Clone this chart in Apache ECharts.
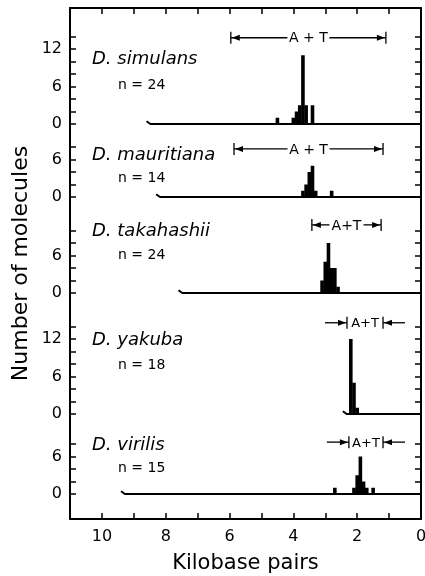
<!DOCTYPE html>
<html><head><meta charset="utf-8">
<script src="https://cdn.jsdelivr.net/npm/echarts@6/dist/echarts.min.js"></script>
<style>html,body{margin:0;padding:0;background:#fff}#c{width:425px;height:576px}</style>
</head><body><div id="c"></div>
<script>
// ---- data (kilobase pairs, number of molecules) ----
const species = ['D. simulans', 'D. mauritiana', 'D. takahashii', 'D. yakuba', 'D. virilis'];
const nValues = [24, 14, 24, 18, 15];
const simulansKb = [4.5, 4.0, 3.9, 3.8, 3.7, 3.6, 3.4];
const simulansN  = [1, 1, 2, 3, 11, 3, 3];
const mauritianaKb = [3.7, 3.6, 3.5, 3.4, 3.3, 2.8];
const mauritianaN  = [1, 2, 4, 5, 1, 1];
const takahashiiKb = [3.1, 3.0, 2.9, 2.8, 2.7, 2.6];
const takahashiiN  = [2, 5, 8, 4, 4, 1];
const yakubaKb = [2.2, 2.1, 2.0];
const yakubaN  = [12, 5, 1];
const virilisKb = [2.7, 2.1, 2.0, 1.9, 1.8, 1.7, 1.5];
const virilisN  = [1, 1, 3, 6, 2, 1, 1];
// start of the baseline (kb) of each panel
const baselineStart = [8.6, 8.3, 7.6, 2.45, 9.4];
// A+T region: [left kb, right kb, height in molecules]
const atRegion = [[5.96, 1.10, 13.8], [5.86, 1.19, 7.7], [3.42, 1.25, 10.9], [2.32, 1.19, 14.6], [2.26, 1.19, 8.3]];
const atText = ['A + T', 'A + T', 'A+T', 'A+T', 'A+T'];
const xTicks = [10, 8, 6, 4, 2, 0];
const yTickLabels = [0, 6, 12];

// ---- layout ----
const kbs = [simulansKb, mauritianaKb, takahashiiKb, yakubaKb, virilisKb];
const ns = [simulansN, mauritianaN, takahashiiN, yakubaN, virilisN];
const baselinesPx = [124, 197, 293, 414, 494];
const yMax = [14, 8, 10, 14, 8];
const pxPerUnit = 6.25;
const atMode = [0, 0, 0, 1, 1];     // 0: |<-- A+T -->|, 1: ->|A+T|<-
const atGap = [21, 21, 17, 0, 0];
const atFont = [14, 14, 14, 13, 13];
const labelY = [[59, 85], [155, 178], [231, 255], [340, 365], [445, 468]];
const FONT = 'DejaVu Sans';
const L = 70, R = 4;

const grid = [{left: L, right: R, top: 8, bottom: 57, outerBoundsMode: 'none', containLabel: false}];
const xAxis = [
  {gridIndex: 0, type: 'value', min: 0, max: 11, interval: 1, inverse: true, position: 'bottom',
   axisLine: {show: true, onZero: false, lineStyle: {color: '#000', width: 2}},
   axisTick: {show: true, inside: true, length: 6, lineStyle: {color: '#000', width: 1.5}},
   axisLabel: {show: true, margin: 10, color: '#000', fontFamily: FONT, fontSize: 16,
     hideOverlap: false, formatter: v => xTicks.includes(v) ? String(v) : ''},
   splitLine: {show: false},
   name: 'Kilobase pairs', nameLocation: 'middle', nameGap: 34,
   nameTextStyle: {color: '#000', fontFamily: FONT, fontSize: 21}},
  {gridIndex: 0, type: 'value', min: 0, max: 11, interval: 1, inverse: true, position: 'top',
   axisLine: {show: true, onZero: false, lineStyle: {color: '#000', width: 2}},
   axisTick: {show: true, inside: true, length: 6, lineStyle: {color: '#000', width: 1.5}},
   axisLabel: {show: false}, splitLine: {show: false}}
];
const yAxis = [
  {gridIndex: 0, type: 'value', min: 0, max: 1, position: 'left',
   axisLine: {show: true, onZero: false, lineStyle: {color: '#000', width: 2}},
   axisTick: {show: false}, axisLabel: {show: false}, splitLine: {show: false},
   name: 'Number of molecules', nameLocation: 'middle', nameGap: 38, nameRotate: 90,
   nameTextStyle: {color: '#000', fontFamily: FONT, fontSize: 22}},
  {gridIndex: 0, type: 'value', min: 0, max: 1, position: 'right',
   axisLine: {show: true, onZero: false, lineStyle: {color: '#000', width: 2}},
   axisTick: {show: false}, axisLabel: {show: false}, splitLine: {show: false}}
];
const series = [];
const graphic = [];

function makeRenderAT(txt) {
  return function (params, api) {
    const a = api.coord([api.value(0), api.value(2)]);
    const b = api.coord([api.value(1), api.value(2)]);
    const mode = api.value(3), gap = api.value(4), fs = api.value(5);
    const y = a[1], ls = {stroke: '#000', lineWidth: 1.3};
    const cx = (a[0] + b[0]) / 2;
    const ch = [];
    ch.push({type: 'line', shape: {x1: a[0], y1: y - 6, x2: a[0], y2: y + 6}, style: ls});
    ch.push({type: 'line', shape: {x1: b[0], y1: y - 6, x2: b[0], y2: y + 6}, style: ls});
    ch.push({type: 'text', style: {x: cx, y: y + 1, text: txt, align: 'center',
      verticalAlign: 'middle', font: fs + 'px "' + FONT + '"', fill: '#000'}});
    if (mode === 0) {
      ch.push({type: 'line', shape: {x1: a[0], y1: y, x2: cx - gap, y2: y}, style: ls});
      ch.push({type: 'line', shape: {x1: cx + gap, y1: y, x2: b[0], y2: y}, style: ls});
      ch.push({type: 'polygon', shape: {points: [[a[0] + 1, y], [a[0] + 9, y - 3], [a[0] + 9, y + 3]]}, style: {fill: '#000'}});
      ch.push({type: 'polygon', shape: {points: [[b[0] - 1, y], [b[0] - 9, y - 3], [b[0] - 9, y + 3]]}, style: {fill: '#000'}});
    } else {
      ch.push({type: 'line', shape: {x1: a[0] - 22, y1: y, x2: a[0], y2: y}, style: ls});
      ch.push({type: 'line', shape: {x1: b[0], y1: y, x2: b[0] + 22, y2: y}, style: ls});
      ch.push({type: 'polygon', shape: {points: [[a[0] - 1, y], [a[0] - 9, y - 3], [a[0] - 9, y + 3]]}, style: {fill: '#000'}});
      ch.push({type: 'polygon', shape: {points: [[b[0] + 1, y], [b[0] + 9, y - 3], [b[0] + 9, y + 3]]}, style: {fill: '#000'}});
    }
    return {type: 'group', children: ch};
  };
}

for (let i = 0; i < 5; i++) {
  const g = i + 1;
  const h = yMax[i] * pxPerUnit;
  grid.push({left: L, right: R, top: baselinesPx[i] - h, height: h, outerBoundsMode: 'none', containLabel: false});
  xAxis.push({gridIndex: g, type: 'value', min: 0, max: 11, inverse: true, show: false});
  const yi = yAxis.length;
  yAxis.push({gridIndex: g, type: 'value', min: 0, max: yMax[i], interval: 2, position: 'left',
    axisLine: {show: false, onZero: false},
    axisTick: {show: true, inside: true, length: 6, lineStyle: {color: '#000', width: 1.5}},
    axisLabel: {show: true, margin: 8, color: '#000', fontFamily: FONT, fontSize: 16,
      formatter: v => yTickLabels.includes(v) ? String(v) : ''},
    splitLine: {show: false}});
  yAxis.push({gridIndex: g, type: 'value', min: 0, max: yMax[i], interval: 2, position: 'right',
    axisLine: {show: false, onZero: false},
    axisTick: {show: true, inside: true, length: 6, lineStyle: {color: '#000', width: 1.5}},
    axisLabel: {show: false}, splitLine: {show: false}});
  const s0 = baselineStart[i];
  series.push({type: 'line', xAxisIndex: g + 1, yAxisIndex: yi, silent: true, symbol: 'none',
    data: [[s0, 0.45], [s0 - 0.12, 0], [0, 0]], lineStyle: {color: '#000', width: 2}, z: 2});
  series.push({type: 'bar', xAxisIndex: g + 1, yAxisIndex: yi, barWidth: 3.6, silent: true,
    data: kbs[i].map((k, j) => [k, ns[i][j]]), itemStyle: {color: '#000'}, z: 3});
  const r = atRegion[i];
  series.push({type: 'custom', xAxisIndex: g + 1, yAxisIndex: yi, silent: true, clip: false,
    data: [[r[0], r[1], r[2], atMode[i], atGap[i], atFont[i]]], renderItem: makeRenderAT(atText[i]), z: 4});
  graphic.push({type: 'text', x: 92, y: labelY[i][0], style: {text: species[i],
    font: 'italic 18px "' + FONT + '"', fill: '#000', verticalAlign: 'middle'}});
  graphic.push({type: 'text', x: 118, y: labelY[i][1], style: {text: 'n = ' + nValues[i],
    font: '14px "' + FONT + '"', fill: '#000', verticalAlign: 'middle'}});
}

const chart = echarts.init(document.getElementById('c'), null, {renderer: 'canvas'});
chart.setOption({animation: false, backgroundColor: '#fff', grid, xAxis, yAxis, series, graphic});
</script></body></html>
